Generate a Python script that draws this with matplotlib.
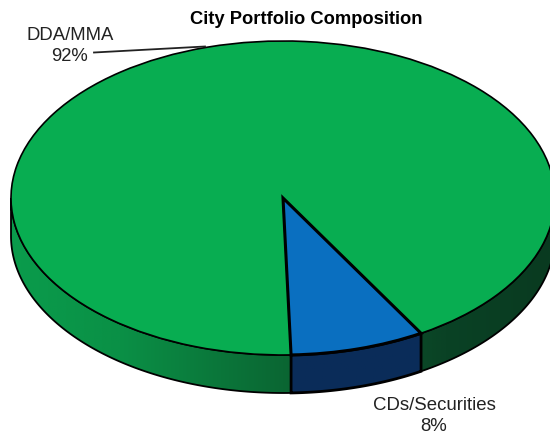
import numpy as np
import matplotlib
matplotlib.use('Agg')
import matplotlib.pyplot as plt
from matplotlib.colors import LinearSegmentedColormap
from matplotlib.patches import Polygon

plt.rcParams['font.family'] = ['Liberation Sans', 'DejaVu Sans']

# data
labels = ['DDA/MMA', 'CDs/Securities']
values = [92, 8]
top_colors = ['#08ad51', '#0a6fc0']
title = 'City Portfolio Composition'

# picture is squashed so the pie looks tilted
W, H = 550, 440
cx, cy = 283, 198
rx, ry = 272, 157
depth = 38 / ry

fig = plt.figure(figsize=(W / 100, H / 100), dpi=100)
ax = fig.add_axes([0, 0, 1, 1])

wedges, _ = ax.pie(values, colors=top_colors, startangle=-59.5, radius=1,
                   wedgeprops={'edgecolor': 'black', 'linewidth': 1.2})
wedges[0].set_zorder(5)
wedges[1].set_zorder(6)
wedges[1].set_linewidth(2.2)

ax.set_aspect('auto')
ax.axis('off')

# side wall, only the front half of the pie shows
green_wall = LinearSegmentedColormap.from_list(
    'green_wall', ['#0a9c4c', '#0a9046', '#0b7439', '#0a5a2d', '#0a4225', '#093a20'])
blue_wall = LinearSegmentedColormap.from_list('blue_wall', ['#0a2b58', '#0a2d5a'])
wall_maps = [green_wall, blue_wall]

for wedge, cmap in zip(wedges, wall_maps):
    t1, t2 = wedge.theta1 % 360, wedge.theta2 % 360
    if t1 > t2:
        spans = [(t1, 360), (180, t2)]
    else:
        spans = [(t1, t2)]
    for a, b in spans:
        a, b = max(a, 180), min(b, 360)
        if b <= a:
            continue
        th = np.radians(np.linspace(a, b, 120))
        xs = np.cos(th)
        ys = np.sin(th)
        pts = np.r_[np.c_[xs, ys], np.c_[xs, ys - depth][::-1]]
        poly = Polygon(pts, closed=True, facecolor='none', edgecolor='black',
                       linewidth=1.3 if cmap is green_wall else 2.0, zorder=3)
        ax.add_patch(poly)
        grad = np.linspace(0, 1, 256).reshape(1, -1)
        im = ax.imshow(grad, cmap=cmap, extent=(-1, 1, -1 - depth, 0), aspect='auto', zorder=2)
        im.set_clip_path(Polygon(pts, closed=True, transform=ax.transData))

ax.set_xlim(-cx / rx, (W - cx) / rx)
ax.set_ylim(-(H - cy) / ry, cy / ry)

fig.text(306 / W, 1 - 19 / H, title, ha='center', va='center', fontsize=13.2,
         fontweight='bold', color='black')
fig.text(70 / W, 1 - 46 / H, f'{labels[0]}\n{values[0]}%', ha='center', va='center',
         fontsize=13.3, color='#222222', linespacing=1.25)
fig.text(434 / W, 1 - 416 / H, f'{labels[1]}\n{values[1]}%', ha='center', va='center',
         fontsize=13.4, color='#222222', linespacing=1.35)

# leader line for the big slice
fig.add_artist(plt.Line2D([94 / W, 205 / W], [1 - 52.5 / H, 1 - 46.5 / H], color='#222222', linewidth=1.3))

fig.savefig('out.png', dpi=100)
